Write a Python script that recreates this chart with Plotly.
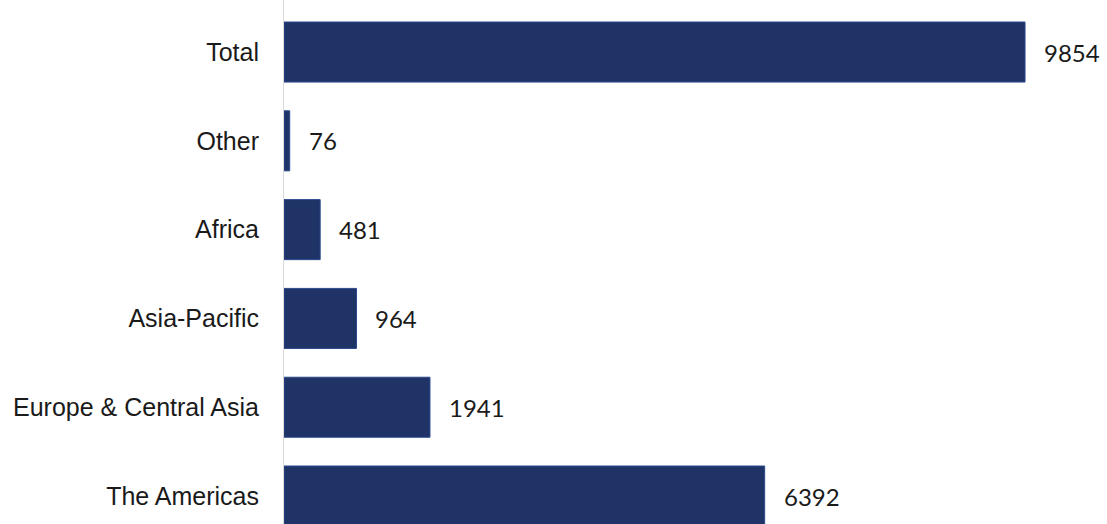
import plotly.graph_objects as go

categories = ["The Americas", "Europe & Central Asia", "Asia-Pacific", "Africa", "Other", "Total"]
values = [6392, 1941, 964, 481, 76, 9854]

bar_color = "#1f3366"

fig = go.Figure()
fig.add_trace(go.Bar(
    y=categories,
    x=values,
    orientation="h",
    width=0.676,
    marker=dict(color=bar_color, line=dict(color="#2b4a8f", width=1)),
    hoverinfo="skip",
))

for c, v in zip(categories, values):
    fig.add_annotation(
        x=v, y=c, text=str(v), showarrow=False,
        xanchor="left", yanchor="middle", xshift=17,
        font=dict(family="Lato, Open Sans, sans-serif", size=24, color="#1a1a1a"),
    )

fig.update_layout(
    width=1107, height=524,
    margin=dict(l=284, r=0, t=0, b=0),
    paper_bgcolor="white", plot_bgcolor="white",
    showlegend=False,
    xaxis=dict(range=[0, 10944], visible=False, showgrid=False, zeroline=False),
    yaxis=dict(
        type="category",
        categoryorder="array", categoryarray=categories,
        range=[-0.315, 5.586],
        showgrid=False, zeroline=False,
        showline=True, linecolor="#d9d9d9", linewidth=1,
        ticks="", ticklabelstandoff=19,
        tickfont=dict(family="Liberation Sans, Arial, sans-serif", size=25, color="#1a1a1a"),
    ),
)

fig.write_html(
    "out.html",
    config={"displayModeBar": False, "staticPlot": True},
    post_script="document.body.style.margin='0';document.body.style.overflow='hidden';",
)
